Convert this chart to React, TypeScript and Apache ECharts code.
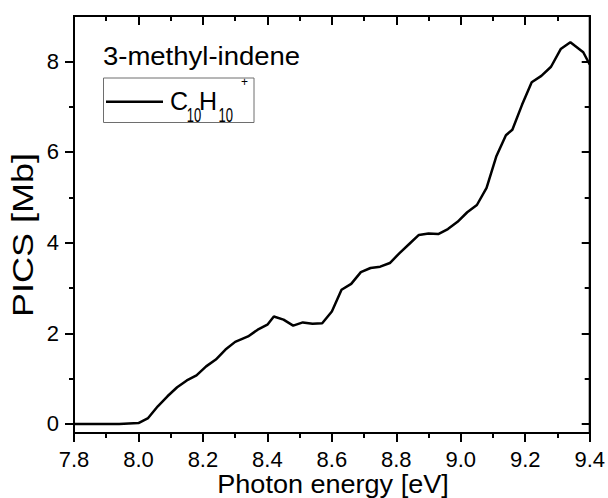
import React, { useEffect, useRef } from "react";
import * as echarts from "echarts";

const energies = [7.80, 7.84, 7.87, 7.90, 7.94, 7.97, 8.00, 8.03, 8.06, 8.09, 8.12, 8.15, 8.18, 8.21, 8.24, 8.27, 8.30, 8.34, 8.37, 8.40, 8.42, 8.45, 8.48, 8.51, 8.54, 8.57, 8.60, 8.63, 8.66, 8.69, 8.72, 8.75, 8.78, 8.81, 8.84, 8.87, 8.90, 8.93, 8.96, 8.99, 9.02, 9.05, 9.08, 9.11, 9.14, 9.16, 9.19, 9.22, 9.25, 9.28, 9.31, 9.34, 9.38, 9.40];
const pics = [0, 0, 0, 0, 0, 0.01, 0.02, 0.13, 0.39, 0.61, 0.81, 0.96, 1.07, 1.27, 1.42, 1.64, 1.81, 1.93, 2.08, 2.19, 2.37, 2.30, 2.17, 2.24, 2.21, 2.22, 2.48, 2.96, 3.09, 3.35, 3.44, 3.47, 3.55, 3.77, 3.97, 4.17, 4.20, 4.19, 4.30, 4.46, 4.67, 4.83, 5.21, 5.90, 6.37, 6.49, 7.04, 7.54, 7.68, 7.88, 8.27, 8.42, 8.20, 7.93];

const yMajorTicks = [0, 2, 4, 6, 8];
const yMinorTicks = [1, 3, 5, 7];
const xTitle = "Photon energy [eV]";
const yTitle = "PICS [Mb]";
const chartTitle = "3-methyl-indene";

const FONT = "'Liberation Sans', Arial, sans-serif";

function buildOption() {
  const axisLine = { show: true, onZero: false, lineStyle: { color: "#000", width: 2 } };
  const noLine = { show: false, onZero: false };
  const tickStyle = { color: "#000", width: 2 };
  const xBase = {
    type: "value",
    min: 7.8,
    max: 9.4,
    interval: 0.2,
    axisLine,
    splitLine: { show: false },
    minorSplitLine: { show: false },
    minorTick: { show: true, splitNumber: 2, length: 5, lineStyle: tickStyle },
  };
  const yBase = { type: "value", min: -0.2, max: 9, splitLine: { show: false } };
  const data = energies.map((e, i) => [e, pics[i]]);
  return {
    animation: false,
    grid: {
      left: 74,
      width: 517,
      top: 16,
      height: 417,
      containLabel: false,
      show: true,
      borderColor: "#000",
      borderWidth: 2,
      backgroundColor: "transparent",
    },
    xAxis: [
      {
        ...xBase,
        position: "bottom",
        axisTick: { show: true, inside: false, length: 9, lineStyle: tickStyle },
        axisLabel: {
          show: true,
          color: "#000",
          fontSize: 22,
          fontFamily: FONT,
          margin: 15,
          hideOverlap: false,
          showMaxLabel: true,
          showMinLabel: true,
          formatter: (v: number) => v.toFixed(1),
        },
      },
      {
        ...xBase,
        position: "top",
        axisTick: { show: true, inside: true, length: 9, lineStyle: tickStyle },
        axisLabel: { show: false },
      },
    ],
    yAxis: [
      {
        ...yBase,
        position: "left",
        axisLine,
        axisTick: { show: true, inside: false, length: 9, customValues: yMajorTicks, lineStyle: tickStyle },
        axisLabel: {
          show: true,
          customValues: yMajorTicks,
          color: "#000",
          fontSize: 22,
          fontFamily: FONT,
          margin: 15,
          formatter: (v: number) => String(v),
        },
      },
      {
        ...yBase,
        position: "left",
        axisLine: noLine,
        axisTick: { show: true, inside: false, length: 5, customValues: yMinorTicks, lineStyle: tickStyle },
        axisLabel: { show: false },
      },
      {
        ...yBase,
        position: "right",
        axisLine,
        axisTick: { show: true, inside: true, length: 8, customValues: yMajorTicks, lineStyle: tickStyle },
        axisLabel: { show: false },
      },
      {
        ...yBase,
        position: "right",
        axisLine: noLine,
        axisTick: { show: true, inside: true, length: 5, customValues: yMinorTicks, lineStyle: tickStyle },
        axisLabel: { show: false },
      },
    ],
    series: [
      {
        type: "line",
        xAxisIndex: 0,
        yAxisIndex: 0,
        data,
        showSymbol: false,
        symbol: "none",
        clip: true,
        lineStyle: { color: "#000", width: 2.5 },
      },
    ],
    graphic: [
      {
        type: "text",
        x: 103,
        y: 56.3,
        scaleX: 1.1,
        style: { text: chartTitle, x: 0, y: 0, fontSize: 25, fontFamily: FONT, fill: "#000", textAlign: "left", verticalAlign: "middle" },
      },
      {
        type: "text",
        x: 333,
        y: 484.3,
        scaleX: 1.04,
        style: { text: xTitle, x: 0, y: 0, fontSize: 26, fontFamily: FONT, fill: "#000", textAlign: "center", verticalAlign: "middle" },
      },
      {
        type: "text",
        x: 23,
        y: 235,
        rotation: Math.PI / 2,
        scaleX: 1.2,
        style: { text: yTitle, x: 0, y: 0, fontSize: 30, fontFamily: FONT, fill: "#000", textAlign: "center", verticalAlign: "middle" },
      },
      {
        type: "rect",
        shape: { x: 103.5, y: 78, width: 150.5, height: 44.5 },
        style: { fill: "#fff", stroke: "#6e6e6e", lineWidth: 1 },
      },
      {
        type: "line",
        shape: { x1: 106, y1: 101.8, x2: 163, y2: 101.8 },
        style: { stroke: "#000", lineWidth: 2.5 },
      },
      {
        type: "text",
        x: 170,
        y: 101.3,
        style: { text: "C", x: 0, y: 0, fontSize: 25, fontFamily: FONT, fill: "#000", textAlign: "left", verticalAlign: "middle" },
      },
      {
        type: "text",
        x: 186.8,
        y: 115.5,
        scaleY: 1.55,
        style: { text: "10", x: 0, y: 0, fontSize: 13, fontFamily: FONT, fill: "#000", textAlign: "left", verticalAlign: "middle" },
      },
      {
        type: "text",
        x: 199,
        y: 101.3,
        style: { text: "H", x: 0, y: 0, fontSize: 25, fontFamily: FONT, fill: "#000", textAlign: "left", verticalAlign: "middle" },
      },
      {
        type: "text",
        x: 218.5,
        y: 115.5,
        scaleY: 1.55,
        style: { text: "10", x: 0, y: 0, fontSize: 13, fontFamily: FONT, fill: "#000", textAlign: "left", verticalAlign: "middle" },
      },
      {
        type: "text",
        x: 241,
        y: 82.2,
        style: { text: "+", x: 0, y: 0, fontSize: 12, fontFamily: FONT, fill: "#000", textAlign: "left", verticalAlign: "middle" },
      },
    ],
  };
}

export default function App() {
  const ref = useRef<HTMLDivElement>(null);
  useEffect(() => {
    if (!ref.current) return;
    const chart = echarts.init(ref.current, null, { renderer: "svg" });
    chart.setOption(buildOption() as any);
    return () => chart.dispose();
  }, []);
  return (
    <div style={{ position: "fixed", left: 0, top: 0, width: 608, height: 498, background: "#fff" }}>
      <div ref={ref} style={{ width: 608, height: 498 }} />
    </div>
  );
}
